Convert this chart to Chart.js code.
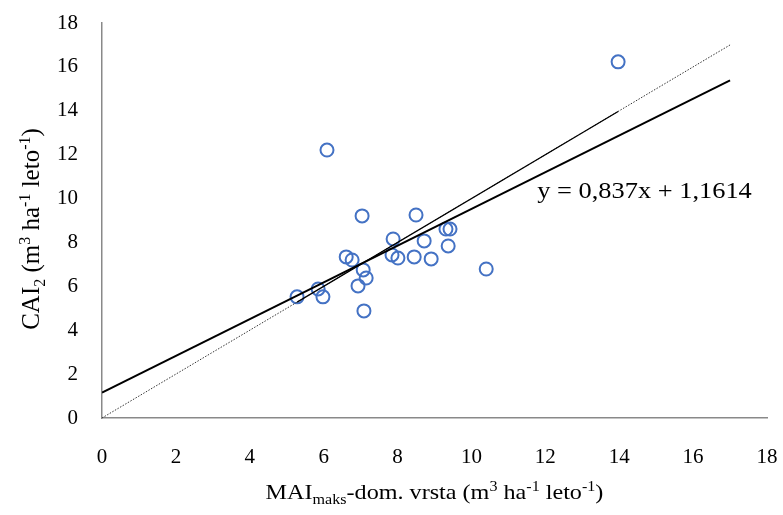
<!DOCTYPE html>
<html>
<head>
<meta charset="utf-8">
<script src="https://cdn.jsdelivr.net/npm/chart.js@4.4.1/dist/chart.umd.min.js"></script>
<style>
  html, body { margin: 0; padding: 0; background: #fff; }
</style>
</head>
<body>
<canvas id="chart" width="783" height="515"></canvas>
<script>
// MAI (x) and CAI2 (y) for each stand
const maiX = [13.97, 6.09, 7.04, 8.50, 9.31, 9.42, 7.88, 8.72, 9.37, 6.61, 6.77, 7.85,
  8.01, 8.45, 8.91, 10.40, 7.07, 7.15, 6.93, 5.28, 5.85, 5.98, 7.09]
const caiY = [16.23, 12.21, 9.21, 9.25, 8.61, 8.61, 8.16, 8.07, 7.84, 7.34, 7.20, 7.43,
  7.29, 7.34, 7.25, 6.79, 6.75, 6.38, 6.02, 5.52, 5.88, 5.52, 4.88]

// linear trend line y = 0,837x + 1,1614
const trendX = [0, 17]
const trendY = [1.16, 15.39]

// 1:1 line (dotted), solid over the range of the data
const oneToOneX = [0, 17]
const oneToOneY = [0, 17]
const solidX = [5.28, 13.97]
const solidY = [5.28, 13.97]

const axisMin = 0
const axisMax = 18
const axisStep = 2

const equationText = 'y = 0,837x + 1,1614'
const equationAt = { x: 11.78, y: 10.03 }

const xTitle = [
  { t: 'MAI' }, { t: 'maks', sub: true }, { t: '-dom. vrsta (m' }, { t: '3', sup: true },
  { t: ' ha' }, { t: '-1', sup: true }, { t: ' leto' }, { t: '-1', sup: true }, { t: ')' }
]
const yTitle = [
  { t: 'CAI' }, { t: '2', sub: true }, { t: ' (m' }, { t: '3', sup: true },
  { t: ' ha' }, { t: '-1', sup: true }, { t: ' leto' }, { t: '-1', sup: true }, { t: ')' }
]

const FAMILY = '"Liberation Serif", "Times New Roman", serif'

function toPoints (xs, ys) {
  return xs.map((x, i) => ({ x: x, y: ys[i] }))
}

function drawRich (ctx, parts, size) {
  const big = `${size}px ${FAMILY}`
  const small = `${Math.round(size * 0.65)}px ${FAMILY}`
  let total = 0
  const widths = parts.map(p => {
    ctx.font = (p.sub || p.sup) ? small : big
    const w = ctx.measureText(p.t).width
    total += w
    return w
  })
  let x = -total / 2
  ctx.textAlign = 'left'
  ctx.textBaseline = 'alphabetic'
  parts.forEach((p, i) => {
    ctx.font = (p.sub || p.sup) ? small : big
    let dy = 0
    if (p.sub) dy = size * 0.22
    if (p.sup) dy = -size * 0.36
    ctx.fillText(p.t, x, dy)
    x += widths[i]
  })
}

const textPlugin = {
  id: 'richText',
  afterDraw (chart) {
    const ctx = chart.ctx
    const area = chart.chartArea
    ctx.save()
    ctx.fillStyle = '#000'

    // x axis title
    ctx.save()
    ctx.translate((area.left + area.right) / 2, 499)
    ctx.scale(1.15, 1)
    drawRich(ctx, xTitle, 21)
    ctx.restore()

    // y axis title
    ctx.save()
    ctx.translate(39, 229)
    ctx.rotate(-Math.PI / 2)
    drawRich(ctx, yTitle, 25)
    ctx.restore()

    // trend equation
    const ex = chart.scales.x.getPixelForValue(equationAt.x)
    const ey = chart.scales.y.getPixelForValue(equationAt.y)
    ctx.save()
    ctx.translate(ex, ey)
    ctx.scale(1.1, 1)
    ctx.font = `24px ${FAMILY}`
    ctx.textAlign = 'left'
    ctx.textBaseline = 'alphabetic'
    ctx.fillText(equationText, 0, 0)
    ctx.restore()

    ctx.restore()
  }
}

const axisLine = { display: true, color: '#898989', width: 1.5 }
const tickFont = { family: FAMILY, size: 21 }

new Chart(document.getElementById('chart'), {
  type: 'scatter',
  data: {
    datasets: [
      {
        label: 'trend',
        data: toPoints(trendX, trendY),
        showLine: true,
        borderColor: '#000',
        borderWidth: 2,
        pointRadius: 0,
        order: 1
      },
      {
        label: '1:1',
        data: toPoints(solidX, solidY),
        showLine: true,
        borderColor: '#000',
        borderWidth: 1.2,
        pointRadius: 0,
        order: 2
      },
      {
        label: '1:1 dotted',
        data: toPoints(oneToOneX, oneToOneY),
        showLine: true,
        borderColor: '#333',
        borderWidth: 1,
        borderDash: [1.5, 1.5],
        pointRadius: 0,
        order: 3
      },
      {
        label: 'CAI2',
        data: toPoints(maiX, caiY),
        showLine: false,
        pointRadius: 6.5,
        pointBorderWidth: 2,
        borderColor: '#4472C4',
        backgroundColor: 'rgba(0,0,0,0)',
        order: 4
      }
    ]
  },
  options: {
    responsive: false,
    animation: false,
    layout: {
      padding: { left: 0, top: 23, right: 16, bottom: 0 }
    },
    scales: {
      x: {
        type: 'linear',
        min: axisMin,
        max: axisMax,
        grid: { display: false, drawTicks: false },
        border: axisLine,
        ticks: { stepSize: axisStep, font: tickFont, color: '#000', padding: 27, maxRotation: 0 },
        afterFit (scale) {
          scale.height = 97
          scale.paddingLeft = 0
          scale.paddingRight = 0
        }
      },
      y: {
        type: 'linear',
        min: axisMin,
        max: axisMax,
        grid: { display: false, drawTicks: false },
        border: axisLine,
        ticks: { stepSize: axisStep, font: tickFont, color: '#000', padding: 24 },
        afterFit (scale) {
          scale.width = 102
          scale.paddingTop = 0
          scale.paddingBottom = 0
        }
      }
    },
    plugins: {
      legend: { display: false },
      tooltip: { enabled: false }
    }
  },
  plugins: [textPlugin]
})
</script>
</body>
</html>
